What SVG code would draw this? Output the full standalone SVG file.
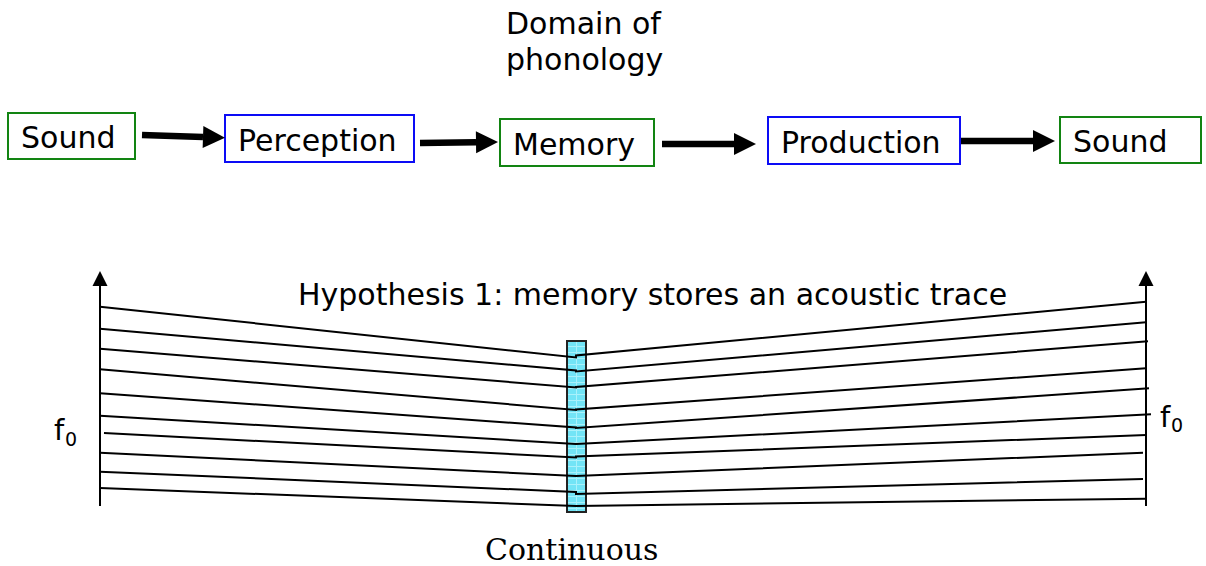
<svg xmlns="http://www.w3.org/2000/svg" width="1206" height="566" viewBox="0 0 1206 566">
<style>
.t{font-family:"DejaVu Sans",Verdana,sans-serif;font-size:30px;fill:#000}
.g{fill:#fff;stroke:#128412;stroke-width:2}
.b{fill:#fff;stroke:#0c0cf5;stroke-width:2}
.ar{stroke:#000;stroke-width:6.5;fill:none}
.ln{stroke:#000;stroke-width:2;fill:none}
.ax{stroke:#000;stroke-width:2;fill:none}
.f{font-family:"DejaVu Sans",Verdana,sans-serif;fill:#000}
</style>
<defs>
<marker id="ah" markerUnits="userSpaceOnUse" viewBox="0 0 22 22" markerWidth="22" markerHeight="22" refX="0" refY="11" orient="auto" overflow="visible">
<path d="M0,0 L22,11 L0,22 z" fill="#000"/>
</marker>
<marker id="axh" markerUnits="userSpaceOnUse" viewBox="0 0 16 16" markerWidth="16" markerHeight="16" refX="0" refY="8" orient="auto" overflow="visible">
<path d="M0,0.5 L15,8 L0,15.5 z" fill="#000"/>
</marker>
<pattern id="grid" patternUnits="userSpaceOnUse" x="567" y="341" width="10" height="6">
<rect width="10" height="6" fill="#72e4f6"/>
<path d="M0,5.5 H10 M9.5,0 V6" stroke="#a9f1fb" stroke-width="1"/>
</pattern>
</defs>

<text class="t" x="506" y="34">Domain of</text>
<text class="t" x="506" y="70">phonology</text>

<g id="sound1"><rect class="g" x="8" y="113" width="127" height="46"/><text class="t" x="21" y="148">Sound</text></g>
<g id="perception"><rect class="b" x="225" y="115" width="189" height="47"/><text class="t" x="238" y="151">Perception</text></g>
<g id="memory"><rect class="g" x="500" y="119" width="154" height="47"/><text class="t" x="513" y="155">Memory</text></g>
<g id="production"><rect class="b" x="768" y="117" width="192" height="47"/><text class="t" x="781" y="153">Production</text></g>
<g id="sound2"><rect class="g" x="1060" y="117" width="141" height="46"/><text class="t" x="1073" y="152">Sound</text></g>

<g id="connectors">
<line class="ar" x1="142" y1="135" x2="203" y2="137" marker-end="url(#ah)"/>
<line class="ar" x1="420" y1="143" x2="476" y2="142.3" marker-end="url(#ah)"/>
<line class="ar" x1="662" y1="144" x2="734" y2="144" marker-end="url(#ah)"/>
<line class="ar" x1="961" y1="141" x2="1033" y2="141" marker-end="url(#ah)"/>
</g>

<g id="plot">
<text class="t" x="298" y="305">Hypothesis 1: memory stores an acoustic trace</text>
<line class="ax" x1="100" y1="506" x2="100" y2="286" marker-end="url(#axh)"/>
<line class="ax" x1="1146" y1="506" x2="1146" y2="286" marker-end="url(#axh)"/>
<rect x="567" y="341" width="19" height="171" fill="url(#grid)" stroke="#222" stroke-width="2"/>
<polyline class="ln" points="100,306.7 576,357.5 576,355.5 1146,301.7"/>
<polyline class="ln" points="100,328.7 576,370.5 576,371.5 1146,322.3"/>
<polyline class="ln" points="100,348.7 576,387.5 576,387 1148,341.3"/>
<polyline class="ln" points="100,369.3 576,410 576,409.5 1146,368.3"/>
<polyline class="ln" points="100,393.3 576,427.5 576,428 1149,388.3"/>
<polyline class="ln" points="100,415.7 576,444 576,444 1151,414.3"/>
<polyline class="ln" points="104,433 576,457.5 576,456.5 1146,435"/>
<polyline class="ln" points="100,452.7 576,476 576,476 1143,452.7"/>
<polyline class="ln" points="100,471.7 576,492 576,494 1143,479"/>
<polyline class="ln" points="100,488 576,506 576,506 1146,498.7"/>
<text class="f" font-size="29" x="54" y="440">f</text>
<text class="f" font-size="19" x="65" y="446">0</text>
<text class="f" font-size="29" x="1160" y="427">f</text>
<text class="f" font-size="19" x="1171" y="432">0</text>
<text font-family="'DejaVu Serif',serif" font-size="30" x="485" y="560">Continuous</text>
</g>
</svg>
